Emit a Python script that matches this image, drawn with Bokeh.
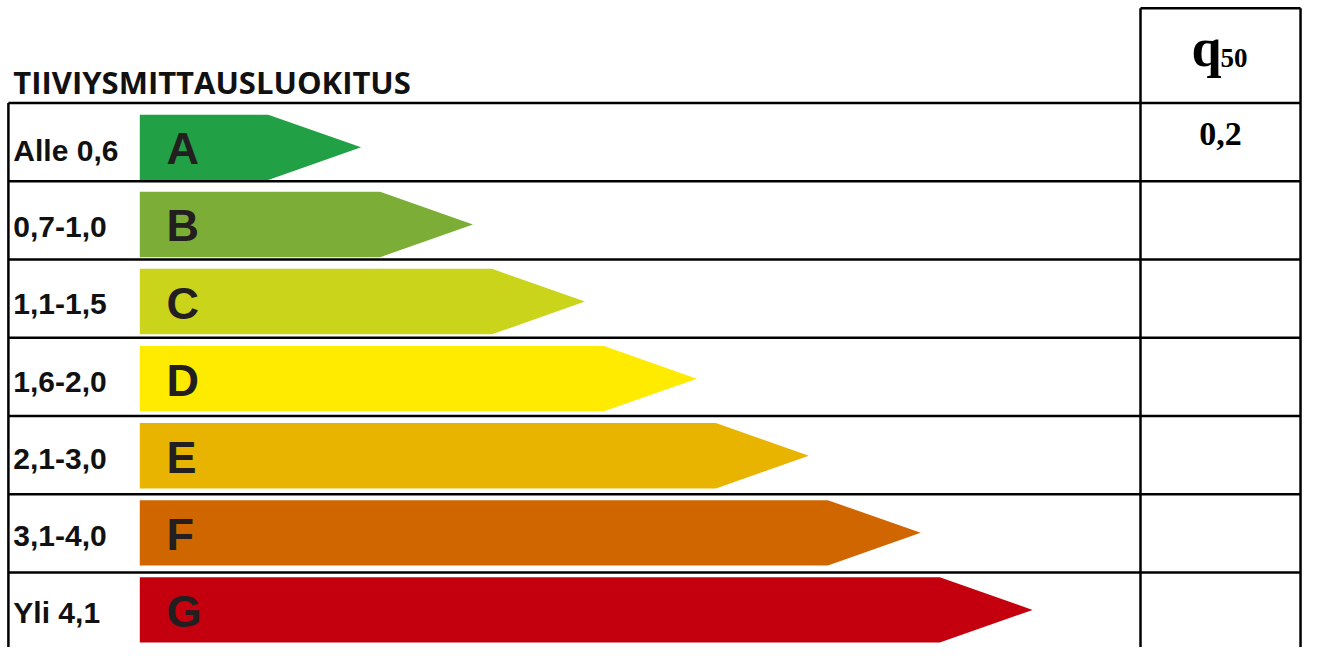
from bokeh.plotting import figure
from bokeh.models import Range1d
from bokeh.core.properties import value
from bokeh.embed import file_html
from bokeh.resources import INLINE

# ---------------- data ----------------
title_text = "TIIVIYSMITTAUSLUOKITUS"
classes = ["A", "B", "C", "D", "E", "F", "G"]
ranges = ["Alle 0,6", "0,7-1,0", "1,1-1,5", "1,6-2,0", "2,1-3,0", "3,1-4,0", "Yli 4,1"]
colors = ["#22a046", "#7cae37", "#c9d41a", "#ffeb00", "#e8b400", "#d06600", "#c4000f"]
q50_main = "q"
q50_sub = "50"
q50_values = ["0,2", "", "", "", "", "", ""]

# ---------------- layout (reference pixel space) ----------------
LEFT, COL_L, COL_R, TOP, BOTTOM = 8, 1154, 1316, 8, 663
ROW0, ROW_H = 105, 80.2
BAR_X, BAR_TOP0, BAR_PITCH, BAR_H = 141, 117, 79, 67
RECT0, RECT_STEP, TIP = 271, 113.3, 94

n = len(classes)

p = figure(width=1303, height=647, x_range=Range1d(0, 1319), y_range=Range1d(663, 0),
           output_backend="svg", toolbar_location=None, min_border=0,
           x_axis_location=None, y_axis_location=None)
p.grid.visible = False
p.outline_line_color = None
p.background_fill_color = "white"

# arrows
xs, ys, centers = [], [], []
for i in range(n):
    top = BAR_TOP0 + i * BAR_PITCH
    end = RECT0 + i * RECT_STEP
    xs.append([BAR_X, end, end + TIP, end, BAR_X])
    ys.append([top, top, top + BAR_H / 2, top + BAR_H, top + BAR_H])
    centers.append(top + BAR_H / 2)
p.patches(xs=xs, ys=ys, fill_color=colors, line_color=None)

# grid lines
x0, y0, x1, y1 = [], [], [], []
for k in range(n):
    y = ROW0 + k * ROW_H
    x0.append(LEFT); x1.append(COL_R); y0.append(y); y1.append(y)
for (xa, ya, xb, yb) in [(LEFT, ROW0, LEFT, BOTTOM), (COL_L, TOP, COL_L, BOTTOM),
                         (COL_R, TOP, COL_R, BOTTOM), (COL_L, TOP, COL_R, TOP)]:
    x0.append(xa); y0.append(ya); x1.append(xb); y1.append(yb)
p.segment(x0=x0, y0=y0, x1=x1, y1=y1, line_color="black", line_width=2.5)

# title
p.text(x=[13], y=[84], text=[title_text], text_font=value("Open Sans"),
       text_font_style="bold", text_font_size="31px", text_color="#111111",
       text_baseline="middle", text_align="left")

# range labels
p.text(x=[13] * n, y=[c + 3 for c in centers], text=ranges,
       text_font=value("Liberation Sans"), text_font_style="bold",
       text_font_size="30px", text_color="#111111",
       text_baseline="middle", text_align="left")

# class letters
p.text(x=[168] * n, y=[c + 1.5 for c in centers], text=classes,
       text_font=value("Liberation Sans"), text_font_style="bold",
       text_font_size="45px", text_color="#231f20",
       text_baseline="middle", text_align="left")

# q50 header
colc = (COL_L + COL_R) / 2
p.text(x=[colc + 1], y=[49], text=[q50_main], text_font=value("Liberation Serif"),
       text_font_style="bold", text_font_size="54px", text_color="black",
       text_baseline="middle", text_align="right")
p.text(x=[colc], y=[59], text=[q50_sub], text_font=value("Liberation Serif"),
       text_font_style="bold", text_font_size="27px", text_color="black",
       text_baseline="middle", text_align="left")

# q50 values
p.text(x=[colc] * n, y=[ROW0 + k * ROW_H + 32 for k in range(n)], text=q50_values,
       text_font=value("Liberation Serif"), text_font_style="bold",
       text_font_size="34px", text_color="black",
       text_baseline="middle", text_align="center")

open("out.html", "w").write(file_html(p, INLINE))
